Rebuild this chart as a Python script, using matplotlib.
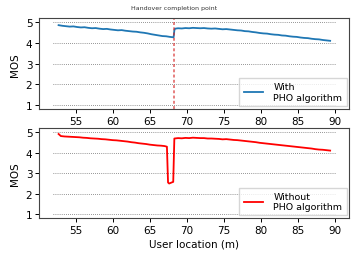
import numpy as np
import matplotlib.pyplot as plt

# user location (m) and MOS
x_with = [52.7, 53.2, 53.7, 54.2, 54.7, 55.2, 55.7, 56.2, 56.7, 57.2, 57.7, 58.2, 58.7,
          59.2, 59.7, 60.2, 60.7, 61.2, 61.7, 62.2, 62.7, 63.2, 63.7, 64.2, 64.7, 65.2,
          65.7, 66.2, 66.7, 67.2, 67.7, 68.2, 68.3, 68.4, 68.8, 69.3, 69.8, 70.3, 70.8,
          71.3, 71.8, 72.3, 72.8, 73.3, 73.8, 74.3, 74.8, 75.3, 75.8, 76.3, 76.8, 77.3,
          77.8, 78.3, 78.8, 79.3, 79.8, 80.3, 80.8, 81.3, 81.8, 82.3, 82.8, 83.3, 83.8,
          84.3, 84.8, 85.3, 85.8, 86.3, 86.8, 87.3, 87.8, 88.3, 88.8, 89.3]
mos_with = [4.87, 4.84, 4.82, 4.80, 4.81, 4.78, 4.76, 4.77, 4.74, 4.72, 4.73, 4.70, 4.68,
            4.69, 4.66, 4.64, 4.62, 4.63, 4.60, 4.58, 4.56, 4.55, 4.52, 4.50, 4.47, 4.43,
            4.40, 4.37, 4.34, 4.33, 4.30, 4.28, 4.62, 4.70, 4.72, 4.71, 4.73, 4.72, 4.74,
            4.73, 4.72, 4.73, 4.71, 4.70, 4.71, 4.69, 4.67, 4.68, 4.66, 4.64, 4.62, 4.61,
            4.58, 4.57, 4.54, 4.52, 4.49, 4.47, 4.46, 4.43, 4.41, 4.40, 4.37, 4.36, 4.33,
            4.31, 4.30, 4.27, 4.25, 4.24, 4.21, 4.19, 4.18, 4.15, 4.13, 4.11]

x_without = [52.7, 53.0, 53.5, 54.0, 54.5, 55.0, 55.5, 56.0, 56.5, 57.0, 57.5, 58.0, 58.5,
             59.0, 59.5, 60.0, 60.5, 61.0, 61.5, 62.0, 62.5, 63.0, 63.5, 64.0, 64.5, 65.0,
             65.5, 66.0, 66.5, 67.0, 67.3, 67.45, 67.6, 67.8, 68.0, 68.15, 68.3, 68.8, 69.3,
             69.8, 70.3, 70.8, 71.3, 71.8, 72.3, 72.8, 73.3, 73.8, 74.3, 74.8, 75.3, 75.8,
             76.3, 76.8, 77.3, 77.8, 78.3, 78.8, 79.3, 79.8, 80.3, 80.8, 81.3, 81.8, 82.3,
             82.8, 83.3, 83.8, 84.3, 84.8, 85.3, 85.8, 86.3, 86.8, 87.3, 87.8, 88.3, 88.8, 89.3]
mos_without = [4.92, 4.82, 4.80, 4.79, 4.78, 4.77, 4.76, 4.74, 4.73, 4.71, 4.70, 4.69, 4.67,
               4.66, 4.64, 4.62, 4.61, 4.59, 4.57, 4.55, 4.52, 4.50, 4.47, 4.45, 4.43, 4.40,
               4.38, 4.36, 4.35, 4.33, 4.30, 2.55, 2.50, 2.53, 2.56, 2.58, 4.70, 4.72, 4.71,
               4.73, 4.72, 4.74, 4.73, 4.72, 4.72, 4.70, 4.70, 4.69, 4.68, 4.66, 4.67, 4.65,
               4.63, 4.62, 4.60, 4.58, 4.56, 4.54, 4.52, 4.49, 4.47, 4.45, 4.43, 4.41, 4.39,
               4.37, 4.35, 4.33, 4.31, 4.29, 4.27, 4.25, 4.23, 4.21, 4.18, 4.16, 4.15, 4.13, 4.11]

handover_x = 68.3
mos_levels = [1, 2, 3, 4, 5]
grid_span = [52.0, 90.0]

fig = plt.figure(figsize=(3.64, 2.55), dpi=100)
ax1 = fig.add_axes([0.108, 0.569, 0.852, 0.355])
ax2 = fig.add_axes([0.108, 0.140, 0.852, 0.353])

leg_kw = dict(loc='lower right', fontsize=6.8, handlelength=2.1, handletextpad=1.05,
              borderpad=0.45, labelspacing=0.15, borderaxespad=0.3, fancybox=False)

for ax in (ax1, ax2):
    ax.hlines(mos_levels, grid_span[0], grid_span[1], colors='black',
              linestyles=(0, (1, 2)), linewidth=0.5, alpha=0.8)
    ax.set_ylabel("MOS", fontsize=7.5)
    ax.tick_params(labelsize=7.5, length=3, width=0.7, pad=2)
    ax.set_yticks(mos_levels)
    for s in ax.spines.values():
        s.set_color('#444444')
        s.set_linewidth(0.8)

ax1.plot(x_with, mos_with, color='#1f77b4', linewidth=1.3, label="With\nPHO algorithm")
ax1.axvline(handover_x, color='#d62728', linestyle=(0, (1.5, 1.2)), linewidth=1.4, alpha=0.6)
ax1.text(handover_x, 5.62, "Handover completion point", fontsize=4.5,
         ha='center', va='bottom', color='#333333')
ax1.legend(**leg_kw)

ax2.plot(x_without, mos_without, color='red', linewidth=1.3, label="Without\nPHO algorithm")
ax2.legend(**leg_kw)
ax2.set_xlabel("User location (m)", fontsize=7.5, labelpad=2)

for ax in (ax1, ax2):
    ax.set_xlim(50.1, 91.9)
    ax.set_ylim(0.8, 5.2)

fig.savefig("out.png", dpi=100)
